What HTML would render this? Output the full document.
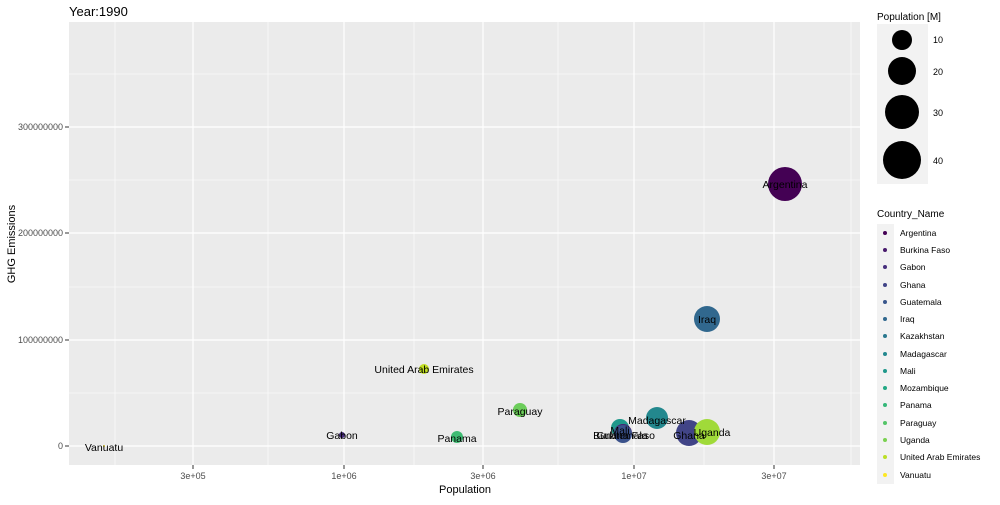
<!DOCTYPE html><html><head><style>body{margin:0;background:#fff}svg{font-family:"Liberation Sans",Arial,sans-serif}</style></head><body>
<svg width="1000" height="500" xmlns="http://www.w3.org/2000/svg">
<rect x="69" y="22" width="791" height="443" fill="#EBEBEB"/>
<g stroke="#fff" stroke-width="0.6">
<line x1="69" x2="860" y1="393" y2="393"/><line x1="69" x2="860" y1="287" y2="287"/><line x1="69" x2="860" y1="180" y2="180"/><line x1="69" x2="860" y1="74" y2="74"/>
<line y1="22" y2="465" x1="115" x2="115"/><line y1="22" y2="465" x1="268" x2="268"/><line y1="22" y2="465" x1="414" x2="414"/><line y1="22" y2="465" x1="558" x2="558"/><line y1="22" y2="465" x1="704" x2="704"/><line y1="22" y2="465" x1="851" x2="851"/>
</g>
<g stroke="#fff" stroke-width="1.2">
<line x1="69" x2="860" y1="446" y2="446"/><line x1="69" x2="860" y1="340" y2="340"/><line x1="69" x2="860" y1="233" y2="233"/><line x1="69" x2="860" y1="127" y2="127"/>
<line y1="22" y2="465" x1="193" x2="193"/><line y1="22" y2="465" x1="344" x2="344"/><line y1="22" y2="465" x1="483" x2="483"/><line y1="22" y2="465" x1="634" x2="634"/><line y1="22" y2="465" x1="774" x2="774"/>
</g>
<g stroke="#333" stroke-width="1">
<line x1="65" x2="69" y1="446" y2="446"/><line x1="65" x2="69" y1="340" y2="340"/><line x1="65" x2="69" y1="233" y2="233"/><line x1="65" x2="69" y1="127" y2="127"/>
<line y1="465" y2="469" x1="193" x2="193"/><line y1="465" y2="469" x1="344" x2="344"/><line y1="465" y2="469" x1="483" x2="483"/><line y1="465" y2="469" x1="634" x2="634"/><line y1="465" y2="469" x1="774" x2="774"/>
</g>
<g font-size="9" fill="#4D4D4D" text-anchor="end">
<text x="63" y="449">0</text><text x="63" y="343">100000000</text><text x="63" y="236">200000000</text><text x="63" y="130">300000000</text></g>
<g font-size="9" fill="#4D4D4D" text-anchor="middle">
<text x="193" y="479">3e+05</text><text x="344" y="479">1e+06</text><text x="483" y="479">3e+06</text><text x="634" y="479">1e+07</text><text x="774" y="479">3e+07</text></g>
<text x="465" y="493" font-size="11" text-anchor="middle">Population</text>
<text transform="translate(15,244) rotate(-90)" font-size="11" text-anchor="middle">GHG Emissions</text>
<text x="69" y="16" font-size="13">Year:1990</text>
<g>
<circle cx="785" cy="184" r="17" fill="#440154"/>
<circle cx="707" cy="319" r="13" fill="#31688E"/>
<circle cx="424" cy="369" r="5" fill="#C2DF23"/>
<circle cx="520" cy="410" r="7" fill="#6CCD5A"/>
<circle cx="657" cy="418" r="11" fill="#23888E"/>
<circle cx="620" cy="428" r="9" fill="#1F988B"/>
<circle cx="623" cy="433" r="9" fill="#482173"/>
<circle cx="623" cy="434" r="9" fill="#3B528B"/>
<circle cx="689" cy="433" r="13" fill="#414487"/>
<circle cx="707" cy="432" r="13" fill="#A0DA39"/>
<circle cx="342" cy="435" r="3" fill="#472D7B"/>
<circle cx="457" cy="437" r="6" fill="#3FBC73"/>
<circle cx="104" cy="446" r="1" fill="#FDE725"/>
</g>
<g font-size="10.5" text-anchor="middle" fill="#000">
<text x="785" y="188">Argentina</text><text x="707" y="323">Iraq</text><text x="424" y="373">United Arab Emirates</text>
<text x="520" y="415">Paraguay</text><text x="657" y="424">Madagascar</text><text x="620" y="434">Mali</text>
<text x="624" y="439">Burkina Faso</text><text x="622" y="439">Guatemala</text><text x="689" y="439">Ghana</text>
<text x="712" y="436">Uganda</text><text x="342" y="439">Gabon</text><text x="457" y="442">Panama</text><text x="104" y="451">Vanuatu</text>
</g>
<text x="877" y="20" font-size="10">Population [M]</text>
<rect x="877" y="24" width="51" height="160" fill="#F2F2F2"/>
<circle cx="902" cy="40" r="10" fill="#000"/><circle cx="902" cy="71" r="14" fill="#000"/><circle cx="902" cy="112" r="17" fill="#000"/><circle cx="902" cy="160" r="19" fill="#000"/>
<g font-size="9" fill="#000"><text x="933" y="43">10</text><text x="933" y="75">20</text><text x="933" y="116">30</text><text x="933" y="164">40</text></g>
<text x="877" y="217" font-size="10">Country_Name</text>
<rect x="877" y="224" width="17" height="260" fill="#F2F2F2"/>
<g font-size="8.5" fill="#000">
<circle cx="885" cy="233" r="2" fill="#440154"/><text x="900" y="236">Argentina</text>
<circle cx="885" cy="250" r="2" fill="#481A6C"/><text x="900" y="253">Burkina Faso</text>
<circle cx="885" cy="267" r="2" fill="#472F7D"/><text x="900" y="270">Gabon</text>
<circle cx="885" cy="285" r="2" fill="#414487"/><text x="900" y="288">Ghana</text>
<circle cx="885" cy="302" r="2" fill="#39568C"/><text x="900" y="305">Guatemala</text>
<circle cx="885" cy="319" r="2" fill="#31688E"/><text x="900" y="322">Iraq</text>
<circle cx="885" cy="336" r="2" fill="#2A788E"/><text x="900" y="339">Kazakhstan</text>
<circle cx="885" cy="354" r="2" fill="#23888E"/><text x="900" y="357">Madagascar</text>
<circle cx="885" cy="371" r="2" fill="#1F988B"/><text x="900" y="374">Mali</text>
<circle cx="885" cy="388" r="2" fill="#22A884"/><text x="900" y="391">Mozambique</text>
<circle cx="885" cy="405" r="2" fill="#35B779"/><text x="900" y="408">Panama</text>
<circle cx="885" cy="423" r="2" fill="#54C568"/><text x="900" y="426">Paraguay</text>
<circle cx="885" cy="440" r="2" fill="#7AD151"/><text x="900" y="443">Uganda</text>
<circle cx="885" cy="457" r="2" fill="#BBDF27"/><text x="900" y="460">United Arab Emirates</text>
<circle cx="885" cy="475" r="2" fill="#FDE725"/><text x="900" y="478">Vanuatu</text>
</g>
</svg></body></html>
